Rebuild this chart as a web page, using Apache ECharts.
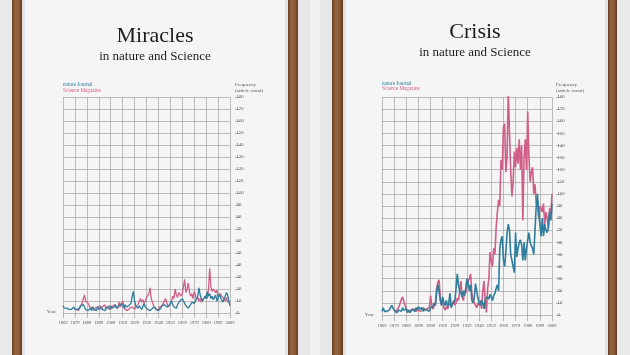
<!DOCTYPE html>
<html><head><meta charset="utf-8">
<script src="https://cdn.jsdelivr.net/npm/echarts@6/dist/echarts.min.js"></script>
<style>html,body{margin:0;padding:0;background:#e9e9e9}#c{width:630px;height:355px}</style>
</head><body><div id="c"></div>
<script>
// ---- data ----
const FIRST_YEAR = 1869, LAST_YEAR = 2009, SCIENCE_FIRST_YEAR = 1880;
const years = [];
for (let y = FIRST_YEAR; y <= LAST_YEAR; y++) years.push(String(y));

const seriesNames = ['nature Journal', 'Science Magazine'];
const chartTitles = ['Miracles', 'Crisis'];
const chartSubtitle = 'in nature and Science';

// "Miracles" – nature Journal, 1869-2009
const natureMiracles = [
  6,4,3,4,3,3,4,3,4,5,
  3,4,3,2,4,6,5,7,5,3,
  4,2,3,4,2,5,3,4,2,5,
  3,4,5,3,4,2,3,5,4,3,
  6,4,3,5,7,4,3,6,5,8,
  6,4,7,5,4,6,5,8,14,18,
  10,6,5,4,6,5,3,4,8,5,
  4,3,4,2,3,4,3,5,3,4,
  2,3,4,6,5,7,6,5,4,6,
  8,10,7,5,6,4,7,8,10,9,
  12,10,8,6,5,4,5,7,9,10,
  8,10,11,14,21,15,12,10,12,14,
  12,18,14,16,12,14,11,13,15,10,
  12,16,13,11,9,12,14,17,15,10,
  6
];
// "Miracles" – Science Magazine, 1880-2009
const scienceMiracles = [
  3,4,2,5,6,8,12,15,10,11,
  8,6,4,3,5,2,4,3,5,4,
  6,3,5,4,7,3,5,4,6,3,
  5,4,7,5,6,4,9,5,7,10,
  6,3,4,2,3,4,3,5,4,3,
  5,4,7,10,12,9,11,8,10,13,
  12,16,21,12,9,6,5,3,4,3,
  5,4,6,8,7,12,9,5,6,8,
  10,14,12,20,15,13,17,18,14,16,
  22,28,17,20,25,18,14,16,12,18,
  15,11,13,10,12,9,11,10,13,15,
  12,20,37,22,18,20,21,17,19,13,
  12,16,14,15,12,10,13,9,8,10
];
// "Crisis" – nature Journal, 1869-2009
const natureCrisis = [
  3,6,3,2,3,3,4,6,8,7,
  4,3,2,3,4,5,3,6,4,3,
  5,2,4,2,3,5,4,3,6,4,
  7,5,4,6,3,5,6,4,5,3,
  6,5,7,10,8,18,25,20,12,8,
  15,10,8,12,7,10,18,6,9,10,
  12,22,34,25,20,18,15,20,16,22,
  30,26,20,25,12,10,14,26,20,14,
  10,8,12,10,5,13,12,15,13,17,
  15,12,16,18,22,25,20,55,62,65,
  45,40,52,68,75,70,50,45,40,35,
  68,48,55,60,62,58,45,60,45,55,
  62,68,60,57,55,50,70,90,100,85,
  75,65,80,65,75,70,68,72,85,78,
  92
];
// "Crisis" – Science Magazine, 1880-2009
const scienceCrisis = [
  3,4,5,7,10,13,15,11,8,5,
  5,3,2,4,3,5,4,3,2,4,
  5,3,4,6,4,3,5,4,6,16,
  8,5,6,10,22,27,29,15,8,12,
  6,4,7,5,8,10,7,9,12,8,
  10,14,12,20,28,15,12,20,18,25,
  28,30,34,18,12,10,8,6,10,8,
  12,5,20,28,12,2,22,30,52,45,
  40,55,50,72,85,95,90,128,120,155,
  158,118,130,186,150,120,98,110,135,122,
  138,125,145,120,140,78,130,145,120,168,
  130,110,118,122,100,108,92,95,80,90,
  88,85,92,75,85,80,72,88,82,100
];
const Y_MIN = 0, Y_MAX = 180, Y_STEP = 10;

// ---- styling ----
const SERIF = 'Liberation Serif';
const TEAL = '#2f7d9c', PINK = '#cf5f88';
const GRIDC = '#a2a2a2';

function pad(arr) {
  const off = SCIENCE_FIRST_YEAR - FIRST_YEAR;
  return years.map((y, i) => i < off ? '-' : arr[i - off]);
}

const layouts = [
  { grid: { left: 63, right: 400, top: 97, bottom: 42 }, center: 155, titleTop: 25, legendLeft: 58, legendTop: 82, yOff: 5, xOff: 4, xTick: 5, year: [56, 312], lw: 1.3 },
  { grid: { left: 382, right: 78, top: 97, bottom: 40 }, center: 475, titleTop: 21, legendLeft: 377, legendTop: 80.5, yOff: 4, xOff: 5, xTick: 6, year: [374, 315], lw: 1.6 }
];
const dataSets = [[natureMiracles, scienceMiracles], [natureCrisis, scienceCrisis]];

const option = {
  backgroundColor: '#e9e9e9',
  animation: false,
  title: layouts.map((L, i) => ({
    text: chartTitles[i], subtext: chartSubtitle,
    left: L.center, top: L.titleTop, textAlign: 'center', padding: 0, itemGap: 3.5,
    textStyle: { fontFamily: SERIF, fontSize: 22, fontWeight: 'normal', color: '#1c1c1c' },
    subtextStyle: { fontFamily: SERIF, fontSize: 13, color: '#1c1c1c' }
  })),
  legend: layouts.map(L => ({
    orient: 'vertical', left: L.legendLeft, top: L.legendTop, padding: 0,
    itemWidth: 0, itemHeight: 0, itemGap: 0, icon: 'none', selectedMode: false,
    textStyle: { fontFamily: SERIF, fontSize: 5.2, lineHeight: 5.6 },
    data: [
      { name: seriesNames[0], textStyle: { color: TEAL } },
      { name: seriesNames[1], textStyle: { color: PINK } }
    ]
  })),
  grid: layouts.map(L => Object.assign({ containLabel: false }, L.grid)),
  xAxis: layouts.map((L, i) => ({
    type: 'category', gridIndex: i, data: years, boundaryGap: false,
    offset: L.xOff,
    axisLine: { show: false },
    axisTick: { show: true, interval: 9, length: L.xTick, lineStyle: { color: '#9a9a9a', width: 0.7 } },
    axisLabel: { interval: 9, margin: 3, fontSize: 4.5, fontFamily: SERIF, color: '#555' },
    splitLine: { show: true, interval: 9, lineStyle: { color: GRIDC, width: 0.7 } }
  })),
  yAxis: layouts.map((L, i) => ({
    type: 'value', gridIndex: i, position: 'right', min: Y_MIN, max: Y_MAX, interval: Y_STEP,
    offset: L.yOff,
    name: 'Frequency\n(article count)', nameLocation: 'end', nameGap: 3,
    nameTextStyle: { align: 'left', verticalAlign: 'bottom', fontFamily: SERIF, fontSize: 5, lineHeight: 6, color: '#555' },
    axisLine: { show: false },
    axisTick: { show: true, length: 5, lineStyle: { color: '#9a9a9a', width: 0.7 } },
    axisLabel: { margin: 1.5, fontSize: 4.8, fontFamily: SERIF, color: '#555' },
    splitLine: { show: true, lineStyle: { color: GRIDC, width: 0.7 } }
  })),
  series: [],
  graphic: []
};

dataSets.forEach((ds, i) => {
  option.series.push({
    name: seriesNames[1], type: 'line', xAxisIndex: i, yAxisIndex: i,
    data: pad(ds[1]), showSymbol: false, symbol: 'none', connectNulls: false,
    lineStyle: { color: PINK, width: layouts[i].lw }, itemStyle: { color: PINK }, z: 3
  });
  option.series.push({
    name: seriesNames[0], type: 'line', xAxisIndex: i, yAxisIndex: i,
    data: ds[0], showSymbol: false, symbol: 'none',
    lineStyle: { color: TEAL, width: layouts[i].lw }, itemStyle: { color: TEAL }, z: 4
  });
});

// frames / mats (decor)
const wood = { type: 'linear', x: 0, y: 0, x2: 1, y2: 0, colorStops: [
  { offset: 0, color: '#6b4125' }, { offset: 0.35, color: '#976640' }, { offset: 0.7, color: '#8a5a35' }, { offset: 1, color: '#5e3a20' } ] };
function rect(x, y, w, h, fill) { return { type: 'rect', silent: true, z: -20, shape: { x, y, width: w, height: h }, style: { fill } }; }
const H = 355;
option.graphic.push(
  rect(298, 0, 34, H, '#e7e7e7'),
  rect(310, 0, 10, H, '#f1f1f1'),
  rect(22, 0, 266, H, '#f5f5f5'),
  rect(343, 0, 265, H, '#f5f5f5'),
  rect(22, 0, 3, H, '#e2e2e2'), rect(285, 0, 3, H, '#e4e4e4'),
  rect(343, 0, 3, H, '#e2e2e2'), rect(605, 0, 3, H, '#e4e4e4'),
  rect(12, 0, 10, H, wood), rect(288, 0, 10, H, wood),
  rect(332, 0, 11, H, wood), rect(608, 0, 9, H, wood)
);
layouts.forEach(L => option.graphic.push({
  type: 'text', silent: true, x: L.year[0], y: L.year[1],
  style: { text: 'Year', fill: '#555', font: '5px "Liberation Serif"', align: 'right', verticalAlign: 'middle' }
}));

const chart = echarts.init(document.getElementById('c'), null, { renderer: 'canvas' });
chart.setOption(option);
</script></body></html>
